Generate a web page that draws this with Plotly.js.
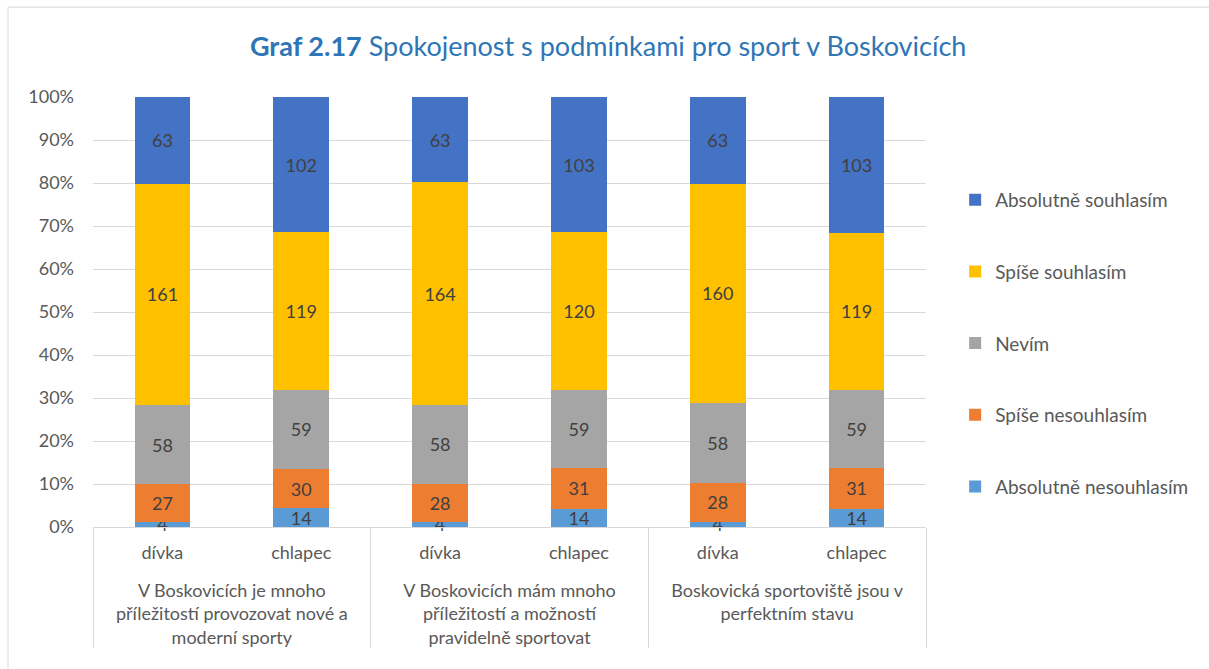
<!DOCTYPE html>
<html>
<head>
<meta charset="utf-8">
<script src="https://cdn.plot.ly/plotly-3.0.1.min.js"></script>
<style>html,body{margin:0;padding:0;background:#fff;}#chart{width:1209px;height:669px;}</style>
</head>
<body>
<div id="chart"></div>
<script>
const groups = [
  "V Boskovicích je mnoho<br>příležitostí provozovat nové a<br>moderní sporty",
  "V Boskovicích mám mnoho<br>příležitostí a možností<br>pravidelně sportovat",
  "Boskovická sportoviště jsou v<br>perfektním stavu"
];
const genders = ["dívka", "chlapec"];
const seriesNames = ["Absolutně nesouhlasím", "Spíše nesouhlasím", "Nevím", "Spíše souhlasím", "Absolutně souhlasím"];
const absNesouhlasim = [4, 14, 4, 14, 4, 14];
const spiseNesouhlasim = [27, 30, 28, 31, 28, 31];
const nevim = [58, 59, 58, 59, 58, 59];
const spiseSouhlasim = [161, 119, 164, 120, 160, 119];
const absSouhlasim = [63, 102, 63, 103, 63, 103];
const colors = ["#5B9BD5", "#ED7D31", "#A5A5A5", "#FFC000", "#4472C4"];

const xGroup = [], xSub = [];
groups.forEach(g => genders.forEach(s => { xGroup.push("<br>" + g); xSub.push(s); }));
const seriesValues = [absNesouhlasim, spiseNesouhlasim, nevim, spiseSouhlasim, absSouhlasim];

const font = "Lato, 'Open Sans', sans-serif";
const traces = seriesValues.map((vals, i) => ({
  type: "bar",
  name: seriesNames[i],
  legendgroup: "g" + i,
  legendrank: 5 - i,
  x: [xGroup, xSub],
  y: vals,
  text: vals.map(String),
  texttemplate: "%{text}",
  textposition: "inside",
  insidetextanchor: "middle",
  textangle: 0,
  textfont: {family: font, size: 18, color: "#404040"},
  marker: {color: colors[i], line: {width: 0}},
  hoverinfo: "skip",
  cliponaxis: false
}));

const layout = {
  width: 1209, height: 669,
  margin: {l: 93, r: 283, t: 97, b: 142},
  paper_bgcolor: "#fff", plot_bgcolor: "#fff",
  barmode: "stack", barnorm: "percent", bargap: 0.6,
  font: {family: font, color: "#595959", size: 18},
  uniformtext: {mode: "show", minsize: 18},
  title: {
    text: "<b>Graf 2.17</b> Spokojenost s podmínkami pro sport v Boskovicích",
    font: {family: font, size: 27, color: "#2E75B6"},
    x: 0.503, xref: "container", xanchor: "center", y: 0.93, yref: "container", yanchor: "middle"
  },
  xaxis: {
    type: "multicategory",
    showline: true, linecolor: "#D9D9D9", linewidth: 1,
    ticks: "outside", ticklen: 11, tickcolor: "rgba(0,0,0,0)",
    ticklabelstandoff: 9,
    showdividers: true, dividercolor: "#D9D9D9", dividerwidth: 1,
    tickfont: {family: font, size: 18, color: "#595959"},
    showgrid: false
  },
  yaxis: {
    range: [0, 100], dtick: 10, ticksuffix: "%",
    showgrid: true, gridcolor: "#D9D9D9", gridwidth: 1,
    zeroline: false, showline: false, ticks: "",
    ticklabelstandoff: 18,
    tickfont: {family: font, size: 18, color: "#595959"}
  },
  legend: {
    x: 1.035, xanchor: "left", y: 0.805, yanchor: "top",
    traceorder: "grouped", tracegroupgap: 44,
    font: {family: font, size: 19, color: "#595959"},
    itemwidth: 30
  },
  shapes: [{
    type: "rect", xref: "paper", yref: "paper",
    x0: -0.102, x1: 1.4, y0: -0.4, y1: 1.209,
    line: {color: "#D9D9D9", width: 1}, fillcolor: "rgba(0,0,0,0)", layer: "below"
  }]
};

Plotly.newPlot("chart", traces, layout, {displayModeBar: false, staticPlot: true});
</script>
</body>
</html>
